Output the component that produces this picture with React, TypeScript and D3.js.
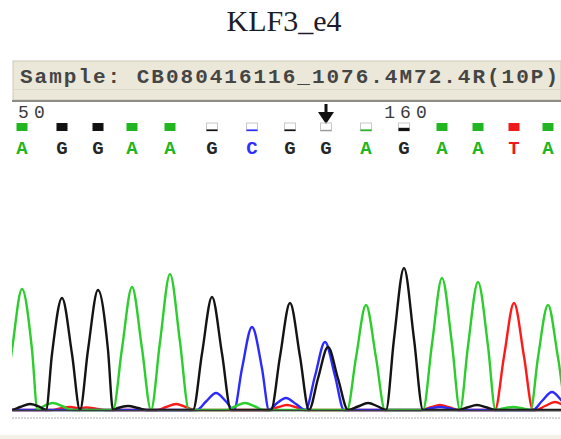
import React from 'react'
import * as d3 from 'd3'

const title = 'KLF3_e4'
const sampleName = 'Sample: CB080416116_1076.4M72.4R(10P)'

// called bases and the scan each one was called at
const bases = ['A', 'G', 'G', 'A', 'A', 'G', 'C', 'G', 'G', 'A', 'G', 'A', 'A', 'T', 'A']
const baseScans = [1645, 1665, 1683, 1700, 1719, 1740, 1760, 1779, 1797, 1817, 1836, 1855, 1873, 1891, 1908]
const baseQuality = [40, 40, 40, 40, 40, 8, 8, 8, 6, 8, 16, 40, 40, 40, 40]
const firstBaseNumber = 150
const markedBase = 8

// trace peaks per dye, [scan, signal]
const peaksA = [[1645, 1210], [1660.5, 70], [1700, 1230], [1719, 1360], [1756.5, 70], [1817, 1050], [1855, 1320], [1873, 1280], [1890.5, 30], [1908, 1050]]
const peaksC = [[1742, 170], [1760, 830], [1777, 120], [1796.5, 680], [1854, 30], [1910, 180]]
const peaksG = [[1649, 60], [1665, 1120], [1683, 1200], [1698, 40], [1740, 1130], [1779, 1070], [1798, 630], [1818, 70], [1836, 1420], [1872.5, 50]]
const peaksT = [[1669, 30], [1677, 25], [1722, 60], [1777.5, 50], [1854, 50], [1891, 1070], [1911.5, 80]]

const W = 561
const H = 439
const FOOT = 9.5
const MID = 5

const letterColor = { A: '#22b522', C: '#2f2fff', G: '#262626', T: '#ee1b1b' }
const traceColor = { A: '#2ccd2c', C: '#2b2bff', G: '#141414', T: '#ff1a1a' }

const x = d3.scaleLinear().domain([1640, 1914.5]).range([12, 561])
const y = d3.scaleLinear().domain([0, 1500]).range([410, 260])
const q = d3.scaleLinear().domain([0, 40]).range([0, 8])

// turns peaks into control points for the line (feet, half height, top)
function tracePoints(peaks) {
  const pts = [[1630, 0]]
  const sorted = [...peaks].sort((a, b) => a[0] - b[0])
  for (const [s, h] of sorted) {
    const lf = s - FOOT
    const last = pts[pts.length - 1]
    if (last[0] >= lf - 1) {
      pts.pop()
      pts.push([(last[0] + lf) / 2, 0])
    } else pts.push([lf, 0])
    pts.push([s - MID, h / 2], [s, h], [s + MID, h / 2], [s + FOOT, 0])
  }
  pts.push([1925, 0])
  return pts
}

const line = d3.line().x(d => x(d[0])).y(d => y(d[1])).curve(d3.curveMonotoneX)

const traces = [
  { dye: 'T', peaks: peaksT },
  { dye: 'C', peaks: peaksC },
  { dye: 'A', peaks: peaksA },
  { dye: 'G', peaks: peaksG },
]

export default function App() {
  const labels = baseScans.map((s, i) => ({ n: firstBaseNumber + i, s })).filter(d => d.n % 10 === 0)
  const ax = x(baseScans[markedBase])

  return (
    <svg width={W} height={H} style={{ position: 'absolute', left: 0, top: 0, background: '#fff' }}>
      <defs>
        <clipPath id="plot">
          <rect x={12} y={104} width={549} height={330} />
        </clipPath>
        <clipPath id="numbers">
          <rect x={16} y={102} width={545} height={20} />
        </clipPath>
      </defs>

      <text x={284} y={31} textAnchor="middle" fontFamily="Liberation Serif" fontSize={30} fill="#1b1b2b">{title}</text>

      <g className="header">
        <rect x={13} y={61} width={548} height={39} fill="#ebe8d9" stroke="#cdcab9" />
        <line x1={13} x2={561} y1={89.5} y2={89.5} stroke="#dcd9ca" />
        <line x1={12} x2={561} y1={101} y2={101} stroke="#8c8b84" strokeWidth={2} />
        <text x={20} y={83} fontFamily="Liberation Mono" fontWeight="bold" fontSize={21} fill="#454545"
          textLength={538} lengthAdjust="spacing">{sampleName}</text>
      </g>

      <g clipPath="url(#numbers)">
        {labels.map(d => (
          <text key={d.n} x={x(d.s) + 4} y={118} textAnchor="middle" fontFamily="Liberation Mono"
            fontSize={18} letterSpacing={5} fill="#3a3a3a">{d.n}</text>
        ))}
      </g>

      <g clipPath="url(#plot)">
        <g className="arrow">
          <line x1={ax} x2={ax} y1={102} y2={115} stroke="#111" strokeWidth={3} />
          <path d={`M${ax - 8},${112}L${ax + 8},${112}L${ax},${124}Z`} fill="#111" />
        </g>

        {bases.map((b, i) => {
          const cx = x(baseScans[i])
          const fh = q(baseQuality[i])
          const full = fh >= 8
          const fill = baseQuality[i] < 7 ? '#9a9a9a' : (b === 'G' ? '#111' : letterColor[b])
          return (
            <g key={i}>
              {!full && <rect x={cx - 5.5} y={123} width={11} height={8} fill="none" stroke="#c8c8c8" strokeWidth={1} />}
              <rect x={cx - 5.5} y={131 - fh} width={11} height={fh} fill={fill} />
              <text x={cx} y={154} textAnchor="middle" fontFamily="Liberation Mono" fontWeight="bold"
                fontSize={19} fill={letterColor[b]}>{b}</text>
            </g>
          )
        })}

        <line x1={12} x2={561} y1={418} y2={418} stroke="#d6d6d6" strokeWidth={2} strokeDasharray="2,1" />

        {traces.map(t => (
          <path key={t.dye} d={line(tracePoints(t.peaks))} fill="none" stroke={traceColor[t.dye]}
            strokeWidth={2.4} strokeLinejoin="round" />
        ))}
        {/* zero line */}
        <line x1={12} x2={561} y1={y(0) + 0.5} y2={y(0) + 0.5} stroke="#3c3c3c" strokeWidth={1.5} />
      </g>

      <rect x={0} y={435} width={W} height={4} fill="#f4f2e8" />
    </svg>
  )
}
